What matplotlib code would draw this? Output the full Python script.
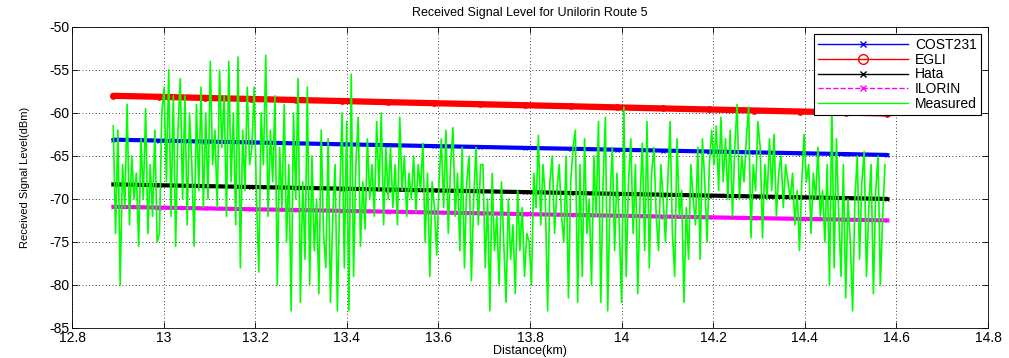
import numpy as np
import matplotlib
matplotlib.use("Agg")
import matplotlib.pyplot as plt
from matplotlib.lines import Line2D

plt.rcParams['font.family'] = ['Liberation Sans', 'DejaVu Sans']
plt.rcParams['axes.unicode_minus'] = False

# model predictions, read every 0.1 km
model_km = [12.89, 12.99, 13.09, 13.19, 13.29, 13.39, 13.49, 13.59, 13.69,
            13.79, 13.89, 13.99, 14.09, 14.19, 14.29, 14.39, 14.49, 14.58]
cost231 = [-63.10, -63.21, -63.32, -63.42, -63.53, -63.64, -63.74, -63.85, -63.95,
           -64.06, -64.16, -64.27, -64.37, -64.48, -64.58, -64.68, -64.78, -64.88]
egli = [-58.00, -58.12, -58.25, -58.37, -58.49, -58.61, -58.74, -58.86, -58.98,
        -59.10, -59.22, -59.35, -59.47, -59.59, -59.71, -59.83, -59.95, -60.06]
hata = [-68.30, -68.40, -68.50, -68.60, -68.70, -68.80, -68.90, -69.00, -69.10,
        -69.20, -69.30, -69.40, -69.50, -69.60, -69.70, -69.80, -69.90, -69.99]
ilorin = [-70.90, -71.00, -71.09, -71.19, -71.28, -71.38, -71.47, -71.57, -71.66,
          -71.76, -71.85, -71.94, -72.04, -72.13, -72.22, -72.31, -72.40, -72.49]

# measured signal, evenly sampled between first and last reading
meas_start, meas_end = 12.89, 14.575
measured = [
    -61.5, -74, -62, -80, -66, -71, -59, -73, -65, -70, -67, -75.5, -63, -70, -59.5, -74, -66, -72, -62, -75,
    -74, -60, -57, -68, -55, -72, -58, -75.5, -62, -56, -70, -58, -73, -60, -66, -75.5, -59, -69, -57, -71,
    -60, -70, -54, -66, -62, -71, -55, -64, -58, -72, -54, -68, -60, -73, -53.5, -78, -62, -69, -57, -66,
    -64, -57, -70, -78.5, -60, -66, -53.3, -72, -62, -68, -58, -80, -64, -71, -59, -75, -66, -83, -60, -70,
    -56, -82, -68, -77, -57, -80, -65, -76, -70, -81, -62, -74, -78, -63, -82, -72, -66, -83, -70, -60,
    -78, -61, -83, -55.5, -79, -66, -60.5, -75.5, -68, -73.5, -63, -70, -66, -72, -61, -69, -60, -73, -64, -70,
    -64, -71, -66, -73, -60.5, -69, -65, -72, -67, -70, -65, -71.5, -66, -69, -63.5, -75, -67, -79, -68, -71,
    -76.5, -68, -63, -71, -62, -74, -66, -61.7, -72, -67, -76, -64, -78, -68, -65, -79.5, -70, -64, -73, -66,
    -66, -78, -70, -83, -67, -76, -72, -80, -68, -75, -82, -70, -77, -73, -81, -69, -76, -71, -79, -74,
    -75, -80, -67, -71, -62.6, -73, -66, -70, -83, -68, -65, -74, -69, -66, -72, -75, -65, -81.5, -68, -64,
    -62, -82, -66, -79, -63, -74, -70, -80, -65, -72, -61, -82, -68, -60.5, -83, -70, -64, -76, -67, -73,
    -82, -59.3, -79, -68, -63, -74, -66, -81, -70, -63.5, -76, -61, -78, -67, -64, -72, -76, -66, -70, -75,
    -68, -61, -74, -79, -63, -72, -69, -82, -71, -77, -66, -70, -73, -64, -77, -63, -68, -75, -66, -62,
    -66, -61.5, -69, -60.5, -68, -63, -70, -62, -72, -64, -59, -70, -65, -68, -63, -59.3, -74.5, -66, -69, -61,
    -64, -74.5, -66, -70, -63, -69, -62.5, -72, -67, -65, -71, -66, -68, -70, -67, -73, -69, -76, -68, -62.5,
    -68, -66, -74, -67, -70, -64, -72, -69, -75, -66, -80, -59, -78, -63, -72, -79, -66, -81.5, -70, -75,
    -83, -70, -65, -77, -68, -64.5, -79, -71, -66, -81, -69, -65, -80, -72, -66,
]
meas_km = np.linspace(meas_start, meas_end, len(measured))

fig = plt.figure(figsize=(10.09, 3.58), dpi=100)
ax = fig.add_axes([0.0714, 0.0838, 0.9078, 0.8408])

ax.plot(model_km, cost231, color='blue', lw=3.0, marker='x', ms=3, mew=0.8, solid_capstyle='round')
ax.plot(model_km, egli, color='red', lw=4.5, marker='o', ms=4, mfc='red', mew=0.8, solid_capstyle='round')
ax.plot(model_km, hata, color='black', lw=3.0, marker='x', ms=3, mew=0.8, solid_capstyle='round')
ax.plot(model_km, ilorin, color='magenta', lw=3.0, marker='x', ms=3, mew=0.8, solid_capstyle='round')
ax.plot(meas_km, measured, color='#00ff00', lw=1.2)

ax.set_xlim(12.8, 14.8)
ax.set_ylim(-85, -50)
ax.set_xticks(np.arange(12.8, 14.81, 0.2))
ax.set_xticklabels(['12.8', '13', '13.2', '13.4', '13.6', '13.8', '14', '14.2', '14.4', '14.6', '14.8'])
ax.set_yticks(np.arange(-85, -49, 5))
ax.tick_params(direction='in', top=True, right=True, labelsize=10, length=4, width=0.6, pad=2)
ax.grid(True, color='black', linestyle=(0, (1, 3)), linewidth=0.6)
for s in ax.spines.values():
    s.set_linewidth(0.6)

ax.set_title('Received Signal Level for Unilorin Route 5', fontsize=9, pad=8)
ax.set_xlabel('Distance(km)', fontsize=9, labelpad=0)
ax.set_ylabel('Received Signal Level(dBm)', fontsize=8, labelpad=14)

handles = [
    Line2D([], [], color='blue', lw=1, marker='x', ms=4),
    Line2D([], [], color='red', lw=1, marker='o', ms=7, mfc='none'),
    Line2D([], [], color='black', lw=1, marker='x', ms=4),
    Line2D([], [], color='magenta', lw=1, ls='--', marker='x', ms=4),
    Line2D([], [], color='#00ff00', lw=1),
]
leg = ax.legend(handles, ['COST231', 'EGLI', 'Hata', 'ILORIN', 'Measured'],
                loc='upper right', fontsize=10, fancybox=False, framealpha=1,
                edgecolor='black', handlelength=6.5, labelspacing=0.05,
                borderpad=0.3, borderaxespad=0.5, handletextpad=0.5)
leg.get_frame().set_linewidth(0.8)

fig.savefig('out.png', dpi=100)
